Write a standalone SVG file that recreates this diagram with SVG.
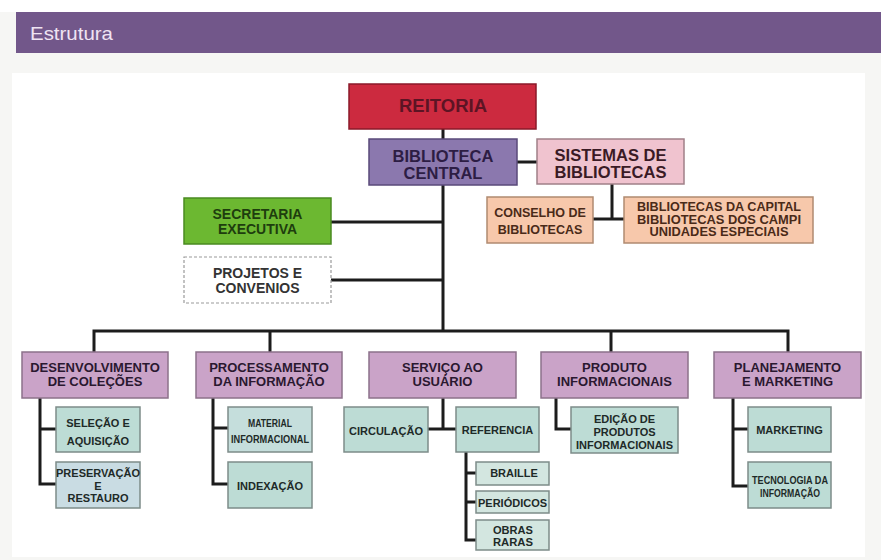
<svg xmlns="http://www.w3.org/2000/svg" width="881" height="560" viewBox="0 0 881 560">
<style>
text{font-family:"Liberation Sans",Arial,sans-serif;font-weight:bold;text-anchor:middle}
.ln{stroke:#1c1c1c;stroke-width:3;fill:none}
.l2 rect{fill:#caa3c8;stroke:#8c728a;stroke-width:1.5}
.l2 text{fill:#2a1830;font-size:13px}
.l3 rect{fill:#bddcd5;stroke:#7d8c89;stroke-width:1.5}
.l3 text{fill:#1e2a28;font-size:11px}
.pc rect{fill:#f7c8ab;stroke:#b08a70;stroke-width:1.5}
.pc text{fill:#4a2a18;font-size:12.5px}
</style>
<rect x="0" y="0" width="881" height="560" fill="#f6f6f4"/>
<rect x="0" y="0" width="881" height="12" fill="#ffffff"/>
<rect x="16" y="12" width="865" height="41" fill="#72578a"/>
<text x="30" y="40" font-size="19" fill="#efe3f3" style="text-anchor:start;font-weight:normal" textLength="83" lengthAdjust="spacingAndGlyphs">Estrutura</text>
<rect x="12" y="73" width="853" height="484" fill="#ffffff"/>

<g id="connectors">
<path class="ln" d="M443 129V331M517 162H537M331 222H443M331 280H443"/>
<path class="ln" d="M612 184V219M593 219H624"/>
<path class="ln" d="M94 352V331H788V352M270 331V352M611 331V352"/>
<path class="ln" d="M40 398V484H56M40 429H56"/>
<path class="ln" d="M213 398V484H228M213 428H228"/>
<path class="ln" d="M443 398V429M428 429H456"/>
<path class="ln" d="M466 452V540H476M466 473H476M466 502H476"/>
<path class="ln" d="M556 398V429H571"/>
<path class="ln" d="M733 398V486H748M733 429H748"/>
</g>

<g id="reitoria"><rect x="349" y="84" width="187" height="45" fill="#cc2a3f" stroke="#8a1a2a" stroke-width="1.5"/><text x="443" y="112" font-size="18.5" fill="#5c1424">REITORIA</text></g>
<g id="biblioteca-central"><rect x="369" y="139" width="148" height="46" fill="#8b78ae" stroke="#5a4a7a" stroke-width="1.5"/><text x="443" y="162" font-size="16.5" fill="#2d1d44">BIBLIOTECA</text><text x="443" y="179" font-size="16.5" fill="#2d1d44">CENTRAL</text></g>
<g id="sistemas"><rect x="537" y="139" width="147" height="45" fill="#f0c3cf" stroke="#a08088" stroke-width="1.5"/><text x="610.5" y="161" font-size="16.5" fill="#3a1a25">SISTEMAS DE</text><text x="610.5" y="178" font-size="16.5" fill="#3a1a25">BIBLIOTECAS</text></g>
<g id="secretaria"><rect x="184" y="198" width="147" height="46" fill="#6cb831" stroke="#4a8a20" stroke-width="1.5"/><text x="257.5" y="219" font-size="14" fill="#1e3d0e">SECRETARIA</text><text x="257.5" y="234" font-size="14" fill="#1e3d0e">EXECUTIVA</text></g>
<g id="projetos"><rect x="184" y="257" width="147" height="46" fill="#ffffff" stroke="#9a9a9a" stroke-width="1.2" stroke-dasharray="3,2"/><text x="257.5" y="278" font-size="14" fill="#333">PROJETOS E</text><text x="257.5" y="293" font-size="14" fill="#333">CONVENIOS</text></g>
<g id="conselho" class="pc"><rect x="487" y="197" width="106" height="46"/><text x="540" y="216.5">CONSELHO DE</text><text x="540" y="233.5">BIBLIOTECAS</text></g>
<g id="bibliotecas-capital" class="pc"><rect x="624" y="197" width="189" height="46"/><text x="719" y="211" font-size="10" textLength="164" lengthAdjust="spacingAndGlyphs">BIBLIOTECAS DA CAPITAL</text><text x="719" y="223.5" font-size="10" textLength="164" lengthAdjust="spacingAndGlyphs">BIBLIOTECAS DOS CAMPI</text><text x="719" y="236" font-size="10" textLength="139" lengthAdjust="spacingAndGlyphs">UNIDADES ESPECIAIS</text></g>

<g id="desenvolvimento" class="l2"><rect x="22" y="352" width="146" height="46"/><text x="95" y="372">DESENVOLVIMENTO</text><text x="95" y="386">DE COLEÇÕES</text></g>
<g id="processamento" class="l2"><rect x="196" y="352" width="146" height="46"/><text x="269" y="372">PROCESSAMENTO</text><text x="269" y="386">DA INFORMAÇÃO</text></g>
<g id="servico" class="l2"><rect x="369" y="352" width="147" height="46"/><text x="442.5" y="372">SERVIÇO AO</text><text x="442.5" y="386">USUÁRIO</text></g>
<g id="produto" class="l2"><rect x="541" y="352" width="147" height="46"/><text x="614.5" y="372">PRODUTO</text><text x="614.5" y="386">INFORMACIONAIS</text></g>
<g id="planejamento" class="l2"><rect x="714" y="352" width="147" height="46"/><text x="787.5" y="372">PLANEJAMENTO</text><text x="787.5" y="386">E MARKETING</text></g>

<g id="selecao" class="l3"><rect x="56" y="407" width="84" height="45"/><text x="98" y="427" font-size="11.5">SELEÇÃO E</text><text x="98" y="445" font-size="11.5">AQUISIÇÃO</text></g>
<g id="preservacao" class="l3"><rect x="56" y="462" width="84" height="46" style="fill:#c9dce3"/><text x="98" y="477" font-size="10.5">PRESERVAÇÃO</text><text x="98" y="490" font-size="10.5">E</text><text x="98" y="502" font-size="10.5">RESTAURO</text></g>
<g id="material" class="l3"><rect x="228" y="407" width="84" height="45" style="fill:#c5dedc"/><text x="270" y="427" font-size="10" textLength="44" lengthAdjust="spacingAndGlyphs">MATERIAL</text><text x="270" y="443" font-size="10" textLength="78" lengthAdjust="spacingAndGlyphs">INFORMACIONAL</text></g>
<g id="indexacao" class="l3"><rect x="228" y="462" width="84" height="46"/><text x="270" y="490" font-size="13">INDEXAÇÃO</text></g>
<g id="circulacao" class="l3"><rect x="344" y="407" width="84" height="45"/><text x="386" y="435">CIRCULAÇÃO</text></g>
<g id="referencia" class="l3"><rect x="456" y="407" width="83" height="45"/><text x="497.5" y="434">REFERENCIA</text></g>
<g id="braille" class="l3"><rect x="476" y="462" width="73" height="23" style="fill:#d3e6e0"/><text x="514" y="477" font-size="10.5">BRAILLE</text></g>
<g id="periodicos" class="l3"><rect x="476" y="491" width="73" height="22" style="fill:#d3e6e0"/><text x="512.5" y="507" font-size="10.5">PERIÓDICOS</text></g>
<g id="obras-raras" class="l3"><rect x="476" y="520" width="73" height="30" style="fill:#d3e6e0"/><text x="513" y="534" font-size="9.5" textLength="40" lengthAdjust="spacingAndGlyphs">OBRAS</text><text x="513" y="546" font-size="9.5" textLength="40" lengthAdjust="spacingAndGlyphs">RARAS</text></g>
<g id="edicao" class="l3"><rect x="571" y="407" width="107" height="46"/><text x="624.5" y="423" font-size="10.5">EDIÇÃO DE</text><text x="624.5" y="436" font-size="10.5">PRODUTOS</text><text x="624.5" y="449" font-size="10" textLength="97" lengthAdjust="spacingAndGlyphs">INFORMACIONAIS</text></g>
<g id="marketing" class="l3"><rect x="748" y="407" width="83" height="45"/><text x="789.5" y="434">MARKETING</text></g>
<g id="tecnologia" class="l3"><rect x="748" y="462" width="83" height="46"/><text x="790" y="484" font-size="10" textLength="76" lengthAdjust="spacingAndGlyphs">TECNOLOGIA DA</text><text x="790" y="497" font-size="10" textLength="60" lengthAdjust="spacingAndGlyphs">INFORMAÇÃO</text></g>
</svg>
